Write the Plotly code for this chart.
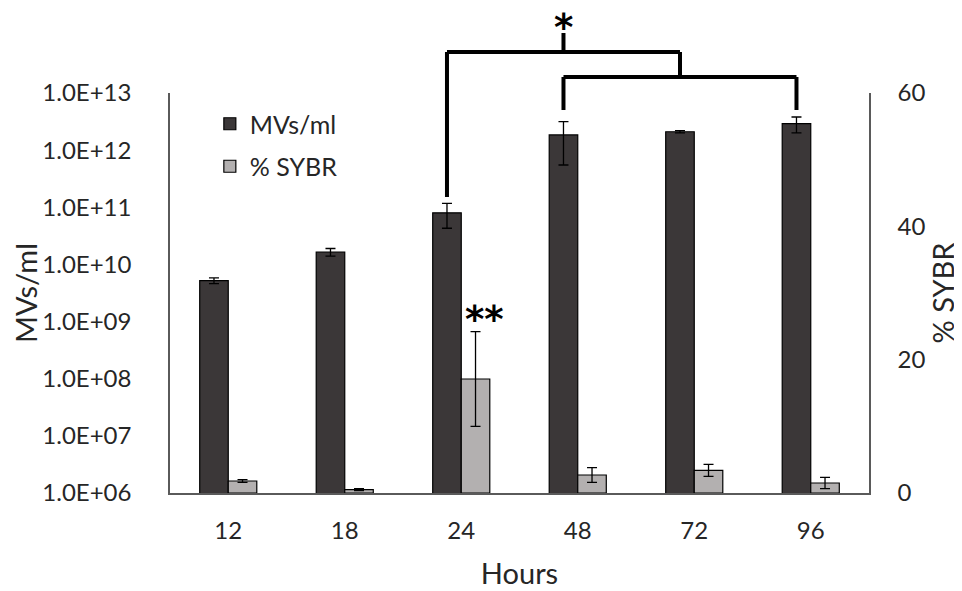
import plotly.graph_objects as go

hours = ['12', '18', '24', '48', '72', '96']
mvs_ml = [5.2e9, 1.65e10, 8.0e10, 1.85e12, 2.1e12, 2.9e12]
mvs_err = [0.6e9, 0.25e10, 3.7e10, 1.3e12, 0.1e12, 0.9e12]
sybr_pct = [1.8, 0.5, 17.1, 2.7, 3.4, 1.5]
sybr_err = [0.2, 0.15, 7.1, 1.1, 0.9, 0.85]
log_ticks = [6, 7, 8, 9, 10, 11, 12, 13]

dark = '#3b3738'
light = '#b3b0b0'
axis_col = '#5a5a5a'
font = 'Lato, Open Sans, sans-serif'
hide = 'rgba(0,0,0,0)'

fig = go.Figure()

fig.add_trace(go.Bar(
    x=hours, y=mvs_ml, name='MVs/ml', yaxis='y', legendgroup='a',
    width=0.245, offset=-0.245,
    marker=dict(color=dark, line=dict(color='black', width=1.2)),
    error_y=dict(type='data', array=mvs_err, color='black', thickness=1.3, width=5),
))
fig.add_trace(go.Bar(
    x=hours, y=sybr_pct, name='% SYBR', yaxis='y2', legendgroup='b',
    width=0.245, offset=0,
    marker=dict(color=light, line=dict(color='black', width=1.2)),
    error_y=dict(type='data', array=sybr_err, color='black', thickness=1.3, width=5),
))

# significance brackets (x in category index units, y in paper units)
bl = dict(color='black', width=4)
d24, d48, d96 = 2 - 0.1225, 3 - 0.1225, 5 - 0.1225
inner_mid = (d48 + d96) / 2
for x0, y0, x1, y1 in [
    (d24, 0.74, d24, 1.1025),
    (d24, 1.1025, inner_mid, 1.1025),
    (inner_mid, 1.1025, inner_mid, 1.04),
    (d48, 1.04, d96, 1.04),
    (d48, 1.04, d48, 0.9575),
    (d96, 1.04, d96, 0.9575),
    (d48, 1.1025, d48, 1.15),
]:
    fig.add_shape(type='line', xref='x', yref='paper', x0=x0, y0=y0, x1=x1, y1=y1,
                  line=bl, layer='above')

star_font = dict(size=37, color='black', family='DejaVu Sans')
fig.add_annotation(x=d48, y=1.164, xref='x', yref='paper', text='<b>*</b>', showarrow=False,
                   yanchor='middle', font=star_font)
fig.add_annotation(x=2 + 0.1225, y=26, xref='x', yref='y2', text='<b>**</b>', showarrow=False,
                   yanchor='middle', xshift=9, font=star_font)

fig.update_layout(
    width=962, height=591,
    margin=dict(l=162, r=101, t=85, b=106),
    paper_bgcolor='white', plot_bgcolor='white',
    font=dict(family=font, size=24, color='#262626'),
    showlegend=True,
    legend=dict(x=0.057, y=0.98, xanchor='left', yanchor='top', traceorder='grouped',
                bgcolor=hide, font=dict(size=25), tracegroupgap=7),
    bargap=0.5,
    xaxis=dict(type='category', showline=True, linecolor=axis_col, linewidth=1.5,
               ticks='outside', ticklen=15, tickcolor=hide, automargin=False,
               title=dict(text='Hours', standoff=21)),
    yaxis=dict(type='log', range=[6, 13], showline=True, linecolor=axis_col, linewidth=1.5,
               showgrid=False, zeroline=False, automargin=False,
               ticks='outside', ticklen=32, tickcolor=hide,
               tickvals=[10 ** t for t in log_ticks],
               ticktext=['1.0E+%02d' % t for t in log_ticks],
               title=dict(text='MVs/ml', standoff=17)),
    yaxis2=dict(overlaying='y', side='right', range=[0, 60], dtick=20,
                showline=True, linecolor=axis_col, linewidth=1.5,
                showgrid=False, zeroline=False, automargin=False,
                ticks='outside', ticklen=22, tickcolor=hide,
                title=dict(text='% SYBR', standoff=9)),
)

fig.write_html('out.html')
